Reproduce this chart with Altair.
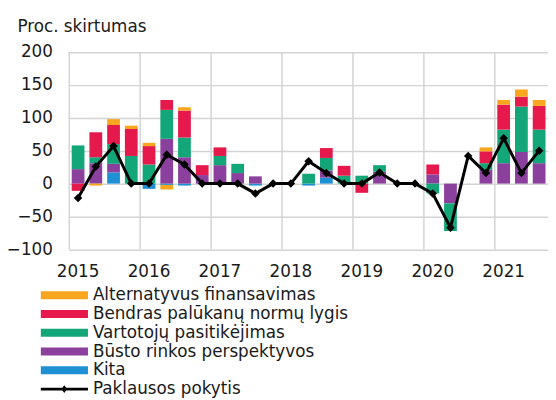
import altair as alt
import pandas as pd

# ---------------- data ----------------
quarters = [f"{y}Q{q}" for y in range(2015, 2022) for q in range(1, 5)][:27]
year_starts = [f"{y}Q1" for y in range(2015, 2022)]

S_ALT = "Alternatyvus finansavimas"
S_BEN = "Bendras palūkanų normų lygis"
S_VAR = "Vartotojų pasitikėjimas"
S_BUS = "Būsto rinkos perspektyvos"
S_KIT = "Kita"
S_LINE = "Paklausos pokytis"

kita = [0, 0, 17, 0, -8, -2, -3, 0, 0, 0, -3, 0, 0, -3, 9, 0, 0, 0, 0, 0, 0, 0, 0, 0, 0, 0, 0]
busto = [22, 31, 13, 0, 0, 68, 40, 13, 28, 16, 11, 0, 0, 0, 11, 0, 0, 18, 0, 0, 14, -30, 0, 21, 31, 48, 31]
vartotoju = [36, 9, 30, 42, 29, 44, 30, 0, 14, 14, 0, 0, 0, 15, 19, 12, 12, 10, 0, 0, -15, -42, 0, 10, 51, 69, 51]
bendras = [-11, 38, 29, 41, 28, 15, 41, 15, 13, 0, 0, 0, 0, 0, 15, 15, -14, 0, 0, 0, 15, 0, 0, 18, 38, 15, 36]
alternatyvus = [0, -3, 9, 5, 5, -7, 5, 0, 0, 0, 0, 0, 0, 0, 0, 0, 0, 0, 0, 0, 0, 0, 0, 6, 7, 11, 9]
paklausa = [-22, 26, 57, 0, 0, 44, 29, 0, 0, 0, -15, 0, 0, 34, 16, 0, 0, 17, 0, 0, -15, -67, 42, 16, 69, 16, 50]

legend_names = [S_ALT, S_BEN, S_VAR, S_BUS, S_KIT, S_LINE]
legend_colors = ["#F8A61E", "#E5194B", "#13A678", "#8C409E", "#1E90D4", "#000000"]
y_ticks = [-100, -50, 0, 50, 100, 150, 200]
y_limits = [-100, 200]

# stacking order: first = nearest zero
stack_series = [(S_KIT, kita), (S_BUS, busto), (S_VAR, vartotoju), (S_BEN, bendras), (S_ALT, alternatyvus)]
rows = []
for order, (name, vals) in enumerate(stack_series):
    for q, v in zip(quarters, vals):
        rows.append({"quarter": q, "series": name, "value": v, "ord": order})
df_bars = pd.DataFrame(rows)
df_line = pd.DataFrame({"quarter": quarters, "value": paklausa})
df_vgrid = pd.DataFrame(
    [{"quarter": q, "value": v} for q in year_starts for v in y_limits]
)
df_hgrid = pd.DataFrame({"value": y_ticks})

FONT = "DejaVu Sans"
TXT = "#1a1a1a"
GRID = "#d4d4d4"

x_scale = alt.Scale(domain=quarters, paddingInner=0, paddingOuter=0)
y_scale = alt.Scale(domain=y_limits, nice=False)

x_axis = alt.Axis(
    values=year_starts,
    labelExpr="substring(datum.value, 0, 4)",
    title=None,
    grid=False,
    ticks=False,
    tickSize=0,
    domain=False,
    labelAngle=0,
    labelPadding=14,
    labelBaseline="top",
    labelFont=FONT,
    labelFontSize=17,
    labelColor=TXT,
    labelOverlap=False,
)
y_axis = alt.Axis(
    values=y_ticks,
    tickCount=7,
    grid=False,
    domain=False,
    ticks=False,
    tickSize=0,
    labelPadding=17,
    labelOverlap=False,
    labelFont=FONT,
    labelFontSize=17,
    labelColor=TXT,
    title="Proc. skirtumas",
    titleAngle=0,
    titleAlign="left",
    titleBaseline="alphabetic",
    titleX=-53,
    titleY=-21,
    titleFont=FONT,
    titleFontSize=17,
    titleFontWeight="normal",
    titleColor=TXT,
)

legend_shape = (
    "datum.value === 'Paklausos pokytis' ? "
    "'M-1,-0.06H1V0.06H-1Z M0,-0.16L0.12,0L0,0.16L-0.12,0Z' : "
    "'M-1,-0.17H1V0.17H-1Z'"
)

# vertical gridlines at year boundaries (drawn as paths)
vgrid = alt.Chart(df_vgrid).mark_line(color=GRID, strokeWidth=1.5, opacity=1).encode(
    x=alt.X("quarter:N", scale=x_scale, bandPosition=0, axis=x_axis),
    y=alt.Y("value:Q", scale=y_scale, axis=y_axis),
    detail="quarter:N",
)
# horizontal gridlines at y ticks: thin filled full-width rects
hgrid = alt.Chart(df_hgrid).mark_rect(color=GRID, opacity=1, y2Offset=1.5).encode(
    y=alt.Y("value:Q", scale=y_scale, axis=y_axis),
    y2=alt.Y2("value:Q"),
)

bars = alt.Chart(df_bars).mark_bar(width=alt.RelativeBandSize(0.72)).encode(
    x=alt.X("quarter:N", scale=x_scale, axis=x_axis),
    y=alt.Y("value:Q", stack="zero", scale=y_scale, axis=y_axis),
    color=alt.Color(
        "series:N",
        scale=alt.Scale(domain=legend_names, range=legend_colors),
        legend=alt.Legend(
            title=None,
            orient="none",
            legendX=-29,
            legendY=237,
            direction="vertical",
            labelFont=FONT,
            labelFontSize=17,
            labelColor=TXT,
            labelLimit=400,
            labelOffset=5,
            symbolSize=2304,
            symbolType={"expr": legend_shape},
            symbolStrokeWidth=0,
            symbolOpacity=1,
            clipHeight=19,
            rowPadding=0,
            padding=0,
        ),
    ),
    order=alt.Order("ord:Q", sort="ascending"),
)

line = alt.Chart(df_line).mark_line(
    color="black",
    strokeWidth=3,
    point=alt.OverlayMarkDef(shape="diamond", size=75, filled=True, color="black"),
).encode(
    x=alt.X("quarter:N", scale=x_scale, axis=x_axis),
    y=alt.Y("value:Q", scale=y_scale, axis=y_axis),
)

chart = (
    alt.layer(hgrid, vgrid, bars, line)
    .properties(
        width=485,
        height=200,
        autosize=alt.AutoSizeParams(type="none"),
        padding={"left": 62, "top": 42, "right": 0, "bottom": 150},
        background="white",
    )
    .configure_view(stroke=None)
)

chart.save("out.html", embed_options={"renderer": "svg", "actions": False})
